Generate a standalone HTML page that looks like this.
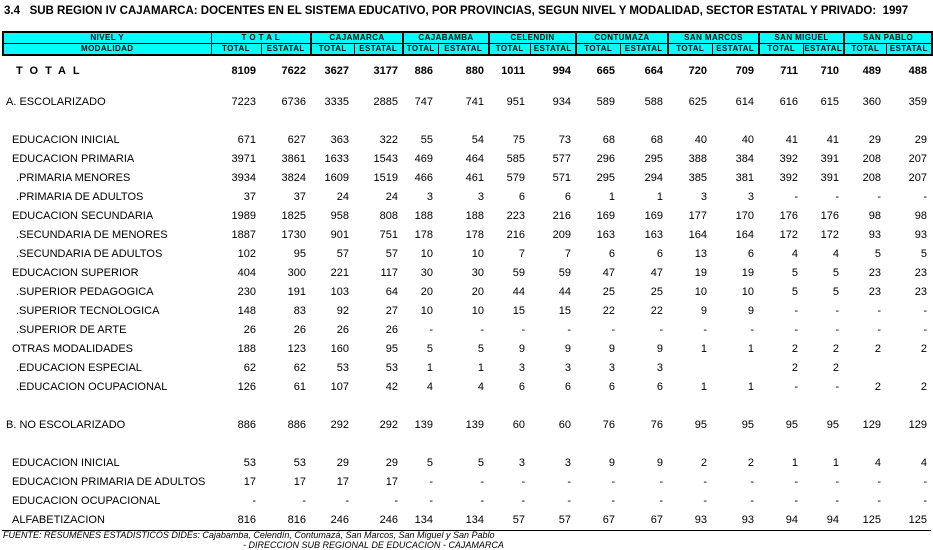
<!DOCTYPE html>
<html><head><meta charset="utf-8"><style>
body{margin:0;width:933px;height:550px;background:#fff;position:relative;font-family:"Liberation Sans",Arial,sans-serif;overflow:hidden}
.title{position:absolute;left:4px;top:5px;font-size:11.5px;font-weight:bold;white-space:nowrap}
table{border-collapse:collapse;table-layout:fixed;position:absolute;left:2px}
.hd{top:31px;width:929px}
.hd td{background:#00ffff;border:1px solid #000;font-size:8px;font-weight:bold;text-align:center;height:10px;padding:0;line-height:10px;letter-spacing:.4px;white-space:nowrap;overflow:hidden}
.hd .tk{border-left:2px solid #000}
.bd{top:62px;width:929px;font-size:11px}
.bd td{height:19px;padding:0 4px 0 0;text-align:right;white-space:nowrap;line-height:19px}
.bd td.l{text-align:left;padding:0}
.bd tr.sp td{height:19px}
.bd tr.sp2 td{height:12px}
.bd tr.last td{border-bottom:1px solid #000}
.b td{font-weight:bold}
.foot{position:absolute;font-size:9px;font-style:italic;white-space:nowrap}
</style></head><body>
<div class="title">3.4&nbsp;&nbsp; SUB REGION IV CAJAMARCA: DOCENTES EN EL SISTEMA EDUCATIVO, POR PROVINCIAS, SEGUN NIVEL Y MODALIDAD, SECTOR ESTATAL Y PRIVADO:&nbsp; 1997</div>
<table class="hd">
<colgroup><col style="width:208px"><col style="width:50px"><col style="width:50px"><col style="width:43px"><col style="width:49px"><col style="width:35px"><col style="width:51px"><col style="width:41px"><col style="width:46px"><col style="width:44px"><col style="width:48px"><col style="width:44px"><col style="width:47px"><col style="width:44px"><col style="width:41px"><col style="width:42px"><col style="width:46px"></colgroup>
<tr style="border-top:2px solid #000"><td style="border-left:2px solid #000">NIVEL Y</td><td colspan="2">T O T A L</td><td colspan="2" class="tk">CAJAMARCA</td><td colspan="2" class="tk">CAJABAMBA</td><td colspan="2" class="tk">CELENDIN</td><td colspan="2" class="tk">CONTUMAZA</td><td colspan="2" class="tk">SAN MARCOS</td><td colspan="2" class="tk">SAN MIGUEL</td><td colspan="2" class="tk" style="border-right:2px solid #000">SAN PABLO</td></tr>
<tr style="border-bottom:2px solid #000"><td style="border-left:2px solid #000">MODALIDAD</td><td>TOTAL</td><td>ESTATAL</td><td class="tk">TOTAL</td><td>ESTATAL</td><td class="tk">TOTAL</td><td>ESTATAL</td><td class="tk">TOTAL</td><td>ESTATAL</td><td class="tk">TOTAL</td><td>ESTATAL</td><td class="tk">TOTAL</td><td>ESTATAL</td><td class="tk">TOTAL</td><td>ESTATAL</td><td class="tk">TOTAL</td><td style="border-right:2px solid #000">ESTATAL</td></tr>
</table>
<table class="bd">
<colgroup><col style="width:208px"><col style="width:50px"><col style="width:50px"><col style="width:43px"><col style="width:49px"><col style="width:35px"><col style="width:51px"><col style="width:41px"><col style="width:46px"><col style="width:44px"><col style="width:48px"><col style="width:44px"><col style="width:47px"><col style="width:44px"><col style="width:41px"><col style="width:42px"><col style="width:46px"></colgroup>
<tr class="b"><td class="l" style="padding-left:14px;letter-spacing:7px">TOTAL</td><td>8109</td><td>7622</td><td>3627</td><td>3177</td><td>886</td><td>880</td><td>1011</td><td>994</td><td>665</td><td>664</td><td>720</td><td>709</td><td>711</td><td>710</td><td>489</td><td>488</td></tr>
<tr class="sp2"><td colspan="17"></td></tr>
<tr><td class="l" style="padding-left:4px">A. ESCOLARIZADO</td><td>7223</td><td>6736</td><td>3335</td><td>2885</td><td>747</td><td>741</td><td>951</td><td>934</td><td>589</td><td>588</td><td>625</td><td>614</td><td>616</td><td>615</td><td>360</td><td>359</td></tr>
<tr class="sp"><td colspan="17"></td></tr>
<tr><td class="l" style="padding-left:10px">EDUCACION INICIAL</td><td>671</td><td>627</td><td>363</td><td>322</td><td>55</td><td>54</td><td>75</td><td>73</td><td>68</td><td>68</td><td>40</td><td>40</td><td>41</td><td>41</td><td>29</td><td>29</td></tr>
<tr><td class="l" style="padding-left:10px">EDUCACION PRIMARIA</td><td>3971</td><td>3861</td><td>1633</td><td>1543</td><td>469</td><td>464</td><td>585</td><td>577</td><td>296</td><td>295</td><td>388</td><td>384</td><td>392</td><td>391</td><td>208</td><td>207</td></tr>
<tr><td class="l" style="padding-left:14px">.PRIMARIA MENORES</td><td>3934</td><td>3824</td><td>1609</td><td>1519</td><td>466</td><td>461</td><td>579</td><td>571</td><td>295</td><td>294</td><td>385</td><td>381</td><td>392</td><td>391</td><td>208</td><td>207</td></tr>
<tr><td class="l" style="padding-left:14px">.PRIMARIA DE ADULTOS</td><td>37</td><td>37</td><td>24</td><td>24</td><td>3</td><td>3</td><td>6</td><td>6</td><td>1</td><td>1</td><td>3</td><td>3</td><td>-</td><td>-</td><td>-</td><td>-</td></tr>
<tr><td class="l" style="padding-left:10px">EDUCACION SECUNDARIA</td><td>1989</td><td>1825</td><td>958</td><td>808</td><td>188</td><td>188</td><td>223</td><td>216</td><td>169</td><td>169</td><td>177</td><td>170</td><td>176</td><td>176</td><td>98</td><td>98</td></tr>
<tr><td class="l" style="padding-left:14px">.SECUNDARIA DE MENORES</td><td>1887</td><td>1730</td><td>901</td><td>751</td><td>178</td><td>178</td><td>216</td><td>209</td><td>163</td><td>163</td><td>164</td><td>164</td><td>172</td><td>172</td><td>93</td><td>93</td></tr>
<tr><td class="l" style="padding-left:14px">.SECUNDARIA DE ADULTOS</td><td>102</td><td>95</td><td>57</td><td>57</td><td>10</td><td>10</td><td>7</td><td>7</td><td>6</td><td>6</td><td>13</td><td>6</td><td>4</td><td>4</td><td>5</td><td>5</td></tr>
<tr><td class="l" style="padding-left:10px">EDUCACION SUPERIOR</td><td>404</td><td>300</td><td>221</td><td>117</td><td>30</td><td>30</td><td>59</td><td>59</td><td>47</td><td>47</td><td>19</td><td>19</td><td>5</td><td>5</td><td>23</td><td>23</td></tr>
<tr><td class="l" style="padding-left:14px">.SUPERIOR PEDAGOGICA</td><td>230</td><td>191</td><td>103</td><td>64</td><td>20</td><td>20</td><td>44</td><td>44</td><td>25</td><td>25</td><td>10</td><td>10</td><td>5</td><td>5</td><td>23</td><td>23</td></tr>
<tr><td class="l" style="padding-left:14px">.SUPERIOR TECNOLOGICA</td><td>148</td><td>83</td><td>92</td><td>27</td><td>10</td><td>10</td><td>15</td><td>15</td><td>22</td><td>22</td><td>9</td><td>9</td><td>-</td><td>-</td><td>-</td><td>-</td></tr>
<tr><td class="l" style="padding-left:14px">.SUPERIOR DE ARTE</td><td>26</td><td>26</td><td>26</td><td>26</td><td>-</td><td>-</td><td>-</td><td>-</td><td>-</td><td>-</td><td>-</td><td>-</td><td>-</td><td>-</td><td>-</td><td>-</td></tr>
<tr><td class="l" style="padding-left:10px">OTRAS MODALIDADES</td><td>188</td><td>123</td><td>160</td><td>95</td><td>5</td><td>5</td><td>9</td><td>9</td><td>9</td><td>9</td><td>1</td><td>1</td><td>2</td><td>2</td><td>2</td><td>2</td></tr>
<tr><td class="l" style="padding-left:14px">.EDUCACION ESPECIAL</td><td>62</td><td>62</td><td>53</td><td>53</td><td>1</td><td>1</td><td>3</td><td>3</td><td>3</td><td>3</td><td></td><td></td><td>2</td><td>2</td><td></td><td></td></tr>
<tr><td class="l" style="padding-left:14px">.EDUCACION OCUPACIONAL</td><td>126</td><td>61</td><td>107</td><td>42</td><td>4</td><td>4</td><td>6</td><td>6</td><td>6</td><td>6</td><td>1</td><td>1</td><td>-</td><td>-</td><td>2</td><td>2</td></tr>
<tr class="sp"><td colspan="17"></td></tr>
<tr><td class="l" style="padding-left:4px">B. NO ESCOLARIZADO</td><td>886</td><td>886</td><td>292</td><td>292</td><td>139</td><td>139</td><td>60</td><td>60</td><td>76</td><td>76</td><td>95</td><td>95</td><td>95</td><td>95</td><td>129</td><td>129</td></tr>
<tr class="sp"><td colspan="17"></td></tr>
<tr><td class="l" style="padding-left:10px">EDUCACION INICIAL</td><td>53</td><td>53</td><td>29</td><td>29</td><td>5</td><td>5</td><td>3</td><td>3</td><td>9</td><td>9</td><td>2</td><td>2</td><td>1</td><td>1</td><td>4</td><td>4</td></tr>
<tr><td class="l" style="padding-left:10px">EDUCACION PRIMARIA DE ADULTOS</td><td>17</td><td>17</td><td>17</td><td>17</td><td>-</td><td>-</td><td>-</td><td>-</td><td>-</td><td>-</td><td>-</td><td>-</td><td>-</td><td>-</td><td>-</td><td>-</td></tr>
<tr><td class="l" style="padding-left:10px">EDUCACION OCUPACIONAL</td><td>-</td><td>-</td><td>-</td><td>-</td><td>-</td><td>-</td><td>-</td><td>-</td><td>-</td><td>-</td><td>-</td><td>-</td><td>-</td><td>-</td><td>-</td><td>-</td></tr>
<tr class="last"><td class="l" style="padding-left:10px">ALFABETIZACION</td><td>816</td><td>816</td><td>246</td><td>246</td><td>134</td><td>134</td><td>57</td><td>57</td><td>67</td><td>67</td><td>93</td><td>93</td><td>94</td><td>94</td><td>125</td><td>125</td></tr>
</table>
<div class="foot" style="left:3px;top:530px">FUENTE: RESUMENES ESTADISTICOS DIDEs: Cajabamba, Celendín, Contumazá, San Marcos, San Miguel y San Pablo</div>
<div class="foot" style="left:243px;top:540px">- DIRECCION SUB REGIONAL DE EDUCACION - CAJAMARCA</div>
</body></html>
